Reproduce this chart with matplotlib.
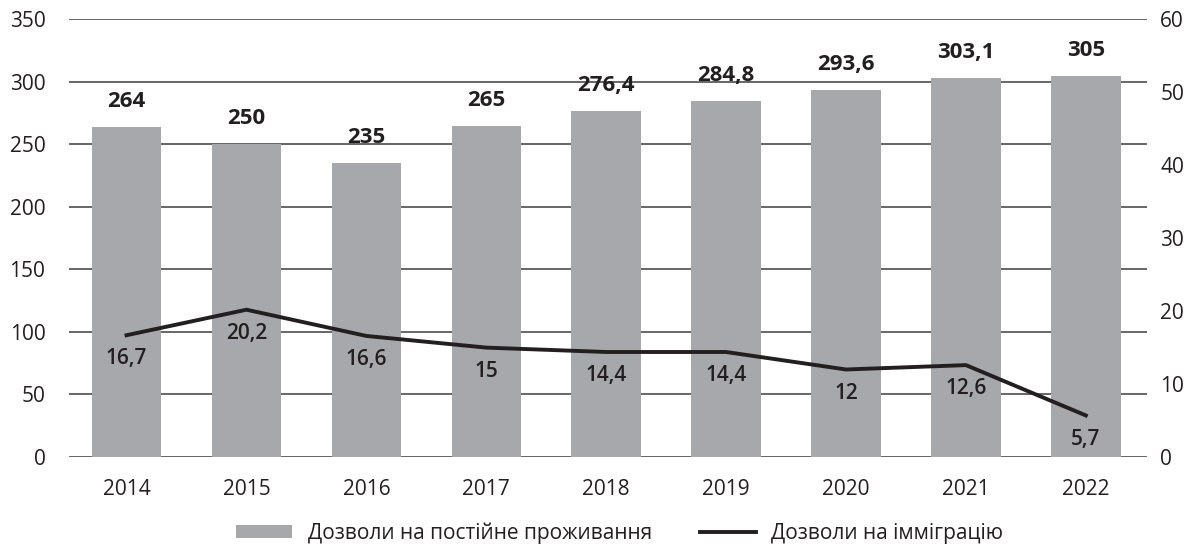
import matplotlib
matplotlib.use("Agg")
import matplotlib.pyplot as plt
from matplotlib.patches import Patch
from matplotlib.lines import Line2D

years = ["2014", "2015", "2016", "2017", "2018", "2019", "2020", "2021", "2022"]
permanent = [264, 250, 235, 265, 276.4, 284.8, 293.6, 303.1, 305]
immigration = [16.7, 20.2, 16.6, 15, 14.4, 14.4, 12, 12.6, 5.7]
permanent_labels = ["264", "250", "235", "265", "276,4", "284,8", "293,6", "303,1", "305"]
immigration_labels = ["16,7", "20,2", "16,6", "15", "14,4", "14,4", "12", "12,6", "5,7"]
left_ticks = [0, 50, 100, 150, 200, 250, 300, 350]
right_ticks = [0, 10, 20, 30, 40, 50, 60]
legend_labels = ["Дозволи на постійне проживання", "Дозволи на імміграцію"]

plt.rcParams['font.family'] = ['Open Sans', 'DejaVu Sans']
TXT = "#231f20"
BAR = "#a7a8ab"
GRID = "#4d4d4f"
FS = 15

fig = plt.figure(figsize=(11.96, 5.49), dpi=100)
ax = fig.add_axes([0.0577, 0.1676, 0.9013, 0.7969])
x = list(range(len(years)))

ax.set_ylim(0, 350)
ax.set_xlim(-0.48, 8.51)
ax.set_yticks(left_ticks)
for t in left_ticks:
    ax.axhline(t, color=GRID, lw=1.2, zorder=1)
ax.bar(x, permanent, width=0.58, color=BAR, zorder=2)
for xi, v, lab in zip(x, permanent, permanent_labels):
    ax.annotate(lab, (xi, v), xytext=(0, 18.5), textcoords="offset points",
                ha="center", va="center", fontsize=16, fontweight="bold", color=TXT)

ax.set_xticks(x)
ax.set_xticklabels(years)
for s in ax.spines.values():
    s.set_visible(False)
ax.tick_params(axis="both", length=0, labelsize=FS, colors=TXT)
ax.tick_params(axis="x", pad=15.5)
ax.tick_params(axis="y", pad=17)

ax2 = ax.twinx()
ax2.set_ylim(0, 60)
ax2.set_yticks(right_ticks)
for s in ax2.spines.values():
    s.set_visible(False)
ax2.tick_params(axis="y", length=0, labelsize=FS, colors=TXT, pad=9.5)
ax2.plot(x, immigration, color=TXT, lw=2.8, zorder=3, solid_joinstyle="miter")
for xi, v, lab in zip(x, immigration, immigration_labels):
    ax2.annotate(lab, (xi, v), xytext=(0, -17), textcoords="offset points",
                 ha="center", va="center", fontsize=FS, fontweight="semibold", color=TXT)

handles = [Patch(facecolor=BAR, edgecolor="none"),
           Line2D([0], [0], color=TXT, lw=2.8)]
fig.legend(handles, legend_labels, loc="center", bbox_to_anchor=(0.518, 0.029),
           ncol=2, frameon=False, fontsize=FS, handlelength=2.7, handleheight=0.6,
           columnspacing=2.3, handletextpad=0.75, labelcolor=TXT)

fig.savefig("out.png", dpi=100)
